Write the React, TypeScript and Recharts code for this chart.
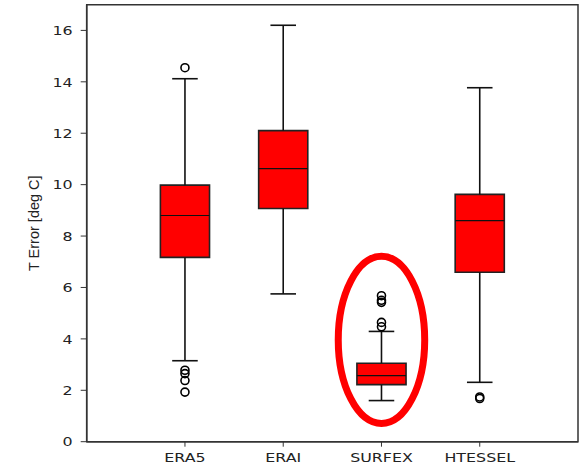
import React from "react";
import {
  ComposedChart,
  XAxis,
  YAxis,
  Scatter,
  ReferenceArea,
  ReferenceLine,
} from "recharts";

// per-model temperature error statistics (deg C)
const models = ["ERA5", "ERAI", "SURFEX", "HTESSEL"];
const positions = [1, 2, 3, 4];
const whiskerLow = [3.15, 5.75, 1.6, 2.31];
const q1 = [7.17, 9.07, 2.22, 6.59];
const median = [8.8, 10.62, 2.57, 8.6];
const q3 = [9.98, 12.1, 3.05, 9.62];
const whiskerHigh = [14.12, 16.2, 4.29, 13.77];
const fliers = [
  [14.55, 2.78, 2.65, 2.38, 1.93],
  [],
  [5.68, 5.5, 5.42, 4.64, 4.47],
  [1.74, 1.68],
];
const yTicks = [0, 2, 4, 6, 8, 10, 12, 14, 16];

const BOX_HALF = 0.25;
const CAP_HALF = 0.13;
const WIDE = 1.22; // labels are drawn slightly stretched horizontally

const flierPoints = fliers.flatMap((vals, i) =>
  vals.map((v) => ({ x: positions[i], y: v }))
);

const XTick = (props: any) => {
  const { x, y, payload } = props;
  return (
    <text
      transform={`translate(${x}, ${y}) scale(${WIDE}, 1)`}
      textAnchor="middle"
      dy="0.71em"
      fontFamily="DejaVu Sans"
      fontSize={13}
      fill="#222"
    >
      {models[payload.value - 1]}
    </text>
  );
};

const YTick = (props: any) => {
  const { x, y, payload } = props;
  return (
    <text
      transform={`translate(${x}, ${y}) scale(${WIDE}, 1)`}
      textAnchor="end"
      dy="0.36em"
      fontFamily="DejaVu Sans"
      fontSize={13}
      fill="#222"
    >
      {payload.value}
    </text>
  );
};

const OpenCircle = (props: any) => (
  <circle
    cx={props.cx}
    cy={props.cy}
    r={4}
    fill="none"
    stroke="#000"
    strokeWidth={1.6}
  />
);

const Ellipse = (props: any) => (
  <ellipse
    cx={props.x + props.width / 2}
    cy={props.y + props.height / 2}
    rx={props.width / 2}
    ry={props.height / 2}
    fill="none"
    stroke="#ff0000"
    strokeWidth={7}
  />
);

export default function App() {
  return (
    <div style={{ position: "absolute", left: 0, top: 0 }}>
      <ComposedChart
        width={587}
        height={468}
        data={flierPoints}
        margin={{ top: 4.7, right: 9, bottom: 0, left: 0 }}
      >
        <XAxis
          type="number"
          dataKey="x"
          domain={[0, 5]}
          ticks={positions}
          height={26.3}
          tickSize={5}
          tickMargin={6}
          tick={<XTick />}
          axisLine={{ stroke: "#333", strokeWidth: 1.5 }}
          tickLine={{ stroke: "#333" }}
          allowDataOverflow
        />
        <YAxis
          type="number"
          dataKey="y"
          domain={[0, 17]}
          ticks={yTicks}
          width={86.7}
          tickSize={6}
          tickMargin={8}
          tick={<YTick />}
          axisLine={{ stroke: "#333", strokeWidth: 1.5 }}
          tickLine={{ stroke: "#333" }}
          allowDataOverflow
          label={{
            content: (p: any) => {
              const vb = p.viewBox;
              const cx = vb.x + 34;
              const cy = vb.y + vb.height / 2;
              return (
                <text
                  x={cx}
                  y={cy}
                  transform={`rotate(-90, ${cx}, ${cy})`}
                  textAnchor="middle"
                  dominantBaseline="central"
                  fontFamily="Liberation Sans"
                  fontSize={14.5}
                  fill="#222"
                >
                  T Error [deg C]
                </text>
              );
            },
          }}
        />
        {/* frame on the top and right */}
        <ReferenceArea
          x1={0}
          x2={5}
          y1={0}
          y2={17}
          fill="none"
          stroke="#333"
          strokeWidth={1.5}
          ifOverflow="visible"
        />
        {positions.map((p, i) => (
          <React.Fragment key={models[i]}>
            <ReferenceLine
              segment={[
                { x: p, y: q3[i] },
                { x: p, y: whiskerHigh[i] },
              ]}
              stroke="#111"
              strokeWidth={1.6}
            />
            <ReferenceLine
              segment={[
                { x: p, y: whiskerLow[i] },
                { x: p, y: q1[i] },
              ]}
              stroke="#111"
              strokeWidth={1.6}
            />
            <ReferenceLine
              segment={[
                { x: p - CAP_HALF, y: whiskerHigh[i] },
                { x: p + CAP_HALF, y: whiskerHigh[i] },
              ]}
              stroke="#111"
              strokeWidth={1.6}
            />
            <ReferenceLine
              segment={[
                { x: p - CAP_HALF, y: whiskerLow[i] },
                { x: p + CAP_HALF, y: whiskerLow[i] },
              ]}
              stroke="#111"
              strokeWidth={1.6}
            />
            <ReferenceArea
              x1={p - BOX_HALF}
              x2={p + BOX_HALF}
              y1={q1[i]}
              y2={q3[i]}
              fill="#ff0000"
              fillOpacity={1}
              stroke="#222"
              strokeWidth={1.6}
            />
            <ReferenceLine
              segment={[
                { x: p - BOX_HALF, y: median[i] },
                { x: p + BOX_HALF, y: median[i] },
              ]}
              stroke="#111"
              strokeWidth={1.2}
            />
          </React.Fragment>
        ))}
        {/* highlight around SURFEX */}
        <ReferenceArea
          x1={2.56}
          x2={3.44}
          y1={0.71}
          y2={7.21}
          shape={Ellipse}
          ifOverflow="visible"
        />
        <Scatter
          data={flierPoints}
          dataKey="y"
          shape={OpenCircle}
          isAnimationActive={false}
        />
      </ComposedChart>
    </div>
  );
}
